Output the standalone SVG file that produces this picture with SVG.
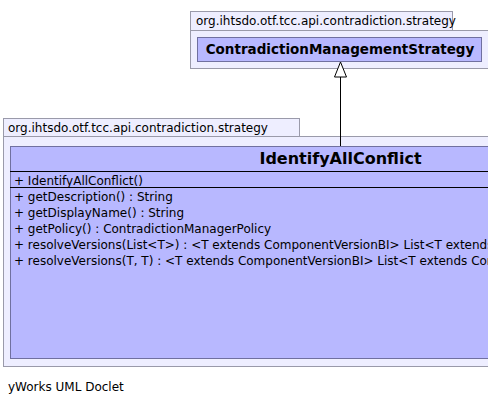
<svg xmlns="http://www.w3.org/2000/svg" width="488" height="405" viewBox="0 0 488 405">
<style>
.pkg{fill:#eeeeff;stroke:#9a9aaa;stroke-width:1}
.cls{fill:#b8b8ff;stroke:#7070a0;stroke-width:1}
.t{font-family:"DejaVu Sans",sans-serif;font-size:12px;fill:#000}
.b{font-family:"DejaVu Sans",sans-serif;font-weight:bold;fill:#000}
.sep{stroke:#000;stroke-width:1}
</style>
<rect x="0" y="0" width="488" height="405" fill="#ffffff"/>
<g id="pkg-top">
<rect class="pkg" x="190.5" y="11.5" width="262" height="19"/>
<rect class="pkg" x="190.5" y="30.5" width="298" height="38"/>
<text class="t" x="196" y="25" font-size="13">org.ihtsdo.otf.tcc.api.contradiction.strategy</text>
</g>
<g id="ContradictionManagementStrategy">
<rect class="cls" x="197.5" y="37.5" width="284" height="24"/>
<text class="b" x="340" y="54" font-size="13.5" text-anchor="middle">ContradictionManagementStrategy</text>
</g>
<g id="pkg-bottom">
<rect class="pkg" x="3.5" y="118.5" width="296" height="18"/>
<rect class="pkg" x="3.5" y="136.5" width="490" height="230"/>
<text class="t" x="8" y="132" font-size="13">org.ihtsdo.otf.tcc.api.contradiction.strategy</text>
</g>
<g id="IdentifyAllConflict">
<rect class="cls" x="10.5" y="146.5" width="660" height="212"/>
<line class="sep" x1="10" y1="171.5" x2="488" y2="171.5"/>
<line class="sep" x1="10" y1="187.5" x2="488" y2="187.5"/>
<text class="b" x="340.5" y="164" font-size="16" text-anchor="middle">IdentifyAllConflict</text>
<text class="t" x="14" y="185">+ IdentifyAllConflict()</text>
<text class="t" x="14" y="201">+ getDescription() : String</text>
<text class="t" x="14" y="217">+ getDisplayName() : String</text>
<text class="t" x="14" y="233">+ getPolicy() : ContradictionManagerPolicy</text>
<text class="t" x="14" y="249">+ resolveVersions(List&lt;T&gt;) : &lt;T extends ComponentVersionBI&gt; List&lt;T extends ComponentVersionBI&gt;</text>
<text class="t" x="14" y="265">+ resolveVersions(T, T) : &lt;T extends ComponentVersionBI&gt; List&lt;T extends ComponentVersionBI&gt;</text>
</g>
<g id="connectors">
<line x1="340.5" y1="77" x2="340.5" y2="146" stroke="#000" stroke-width="1"/>
<polygon points="340.5,62 334.5,77 346.5,77" fill="#fff" stroke="#000" stroke-width="1"/>
</g>
<text class="t" x="8" y="391" font-size="13">yWorks UML Doclet</text>
</svg>
